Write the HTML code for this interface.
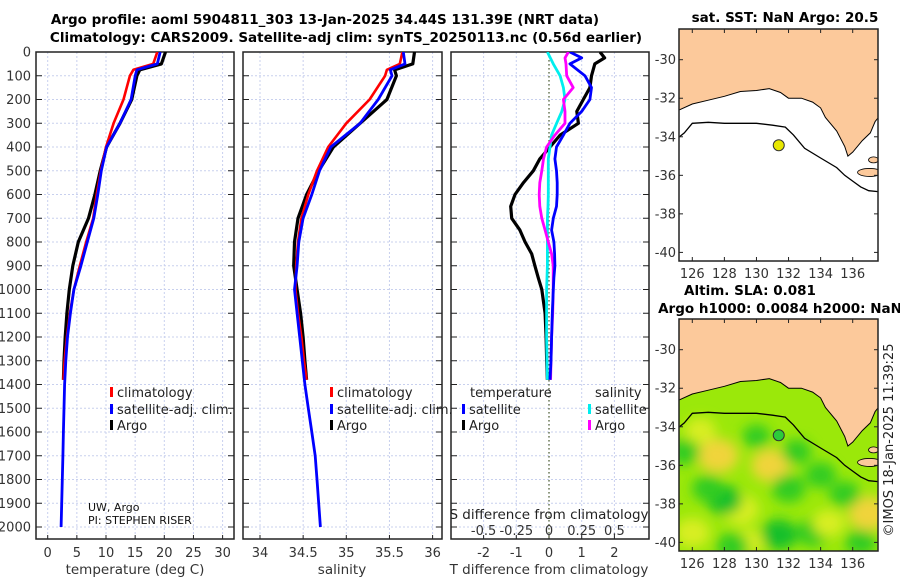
<!DOCTYPE html>
<html><head><meta charset="utf-8">
<style>
html,body{margin:0;padding:0;background:#fff;}
svg{display:block;font-family:"DejaVu Sans","Liberation Sans",sans-serif;}
</style></head>
<body>
<svg id="fig" width="900" height="580" viewBox="0 0 900 580" xmlns="http://www.w3.org/2000/svg">
<defs>
  <clipPath id="clipT"><rect x="36" y="52" width="198" height="487"/></clipPath>
  <clipPath id="clipS"><rect x="243" y="52" width="199" height="487"/></clipPath>
  <clipPath id="clipD"><rect x="451" y="52" width="198" height="487"/></clipPath>
  <clipPath id="clipM1"><rect x="679" y="29" width="199" height="232"/></clipPath>
  <clipPath id="clipM2"><rect x="679" y="319" width="199" height="232"/></clipPath>
  <filter id="blur" x="-50%" y="-50%" width="200%" height="200%"><feGaussianBlur stdDeviation="6"/></filter>
</defs>
<text x="325" y="24" text-anchor="middle" font-size="13.5" font-weight="bold">Argo profile: aoml 5904811_303 13-Jan-2025 34.44S 131.39E (NRT data)</text>
<text x="346" y="42" text-anchor="middle" font-size="13.5" font-weight="bold">Climatology: CARS2009. Satellite-adj clim: synTS_20250113.nc (0.56d earlier)</text>
<g id="panels"></g>
<g id="maps"></g>
<text transform="translate(893,440) rotate(-90)" text-anchor="middle" font-size="13" fill="#222">©IMOS 18-Jan-2025 11:39:25</text>
</svg>
<script>
// ---- data ----
const depthA = [0,50,75,100,200,300,400,500,600,700,800,900,1000,1100,1200,1300,1380];
const depthSat = [0,50,75,100,200,300,400,500,600,700,800,900,1000,1100,1200,1300,1400,1500,1600,1700,1800,1900,2000];
const tempArgo = [20.2,19.5,15.8,15.3,14.4,12.4,10.1,9.0,8.1,7.0,5.25,4.3,3.7,3.3,3.0,2.8,2.7];
const tempClim = [18.8,18.1,14.7,14.1,13.0,11.3,10.0,9.1,8.4,7.8,6.6,5.5,4.5,3.8,3.3,2.9,2.7];
const tempSat = [19.3,18.8,15.3,15.0,14.3,12.4,10.1,9.2,8.6,7.9,6.8,5.7,4.5,3.9,3.4,3.1,2.9,2.8,2.7,2.6,2.5,2.4,2.3];
const salArgo = [35.79,35.77,35.56,35.58,35.47,35.16,34.85,34.68,34.54,34.44,34.40,34.39,34.43,34.47,34.50,34.52,34.54];
const salClim = [35.65,35.62,35.47,35.45,35.27,35.0,34.79,34.66,34.56,34.48,34.44,34.42,34.41,34.44,34.48,34.51,34.54];
const salSat = [35.66,35.68,35.51,35.53,35.37,35.16,34.82,34.69,34.6,34.5,34.45,34.43,34.4,34.43,34.46,34.49,34.52,34.56,34.6,34.64,34.66,34.68,34.70];
const depthDiff = [0,25,50,100,150,200,250,300,350,400,450,500,550,600,650,700,750,800,850,900,950,1000,1100,1200,1300,1380];
const dTempArgo = [1.56,1.7,1.4,1.3,1.25,1.05,0.85,0.9,0.34,0.03,-0.28,-0.48,-0.78,-1.04,-1.17,-1.14,-0.89,-0.73,-0.53,-0.43,-0.33,-0.22,-0.12,-0.09,-0.07,-0.05];
const dTempSat = [0.64,1.0,0.64,1.1,1.3,1.25,1.0,0.64,0.44,0.23,0.18,0.23,0.25,0.25,0.23,0.13,0.08,0.15,0.17,0.18,0.15,0.13,0.1,0.08,0.06,0.03];
const dSalSat = [-0.012,0.01,0.033,0.085,0.11,0.122,0.098,0.058,0.02,0.008,-0.005,-0.005,-0.005,-0.005,-0.008,-0.012,-0.012,-0.012,-0.012,-0.012,-0.015,-0.018,-0.018,-0.018,-0.015,-0.012];
const dSalArgo = [0.148,0.122,0.13,0.135,0.185,0.11,0.122,0.122,0.045,-0.018,-0.042,-0.055,-0.07,-0.075,-0.07,-0.055,-0.03,-0.005,0.02,0.032,0.032,0.032,0.028,0.02,0.015,0.012];
const depthTicks = [0,100,200,300,400,500,600,700,800,900,1000,1100,1200,1300,1400,1500,1600,1700,1800,1900,2000];
const tempTicks = [0,5,10,15,20,25,30];
const salTicks = [34,34.5,35,35.5,36];
const salTickLabels = ["34","34.5","35","35.5","36"];
const dTempTicks = [-2,-1,0,1,2];
const dSalTicks = [-0.5,-0.25,0,0.25,0.5];
const dSalTickLabels = ["-0.5","-0.25","0","0.25","0.5"];
const latTicks = [-30,-32,-34,-36,-38,-40];
const lonTicks = [126,128,130,132,134,136];
const argoLon = [131.39];
const argoLat = [-34.44];
const coastLon = [125.2,126,127,128,129,130,130.8,131.5,132,132.8,133.5,134,134.3,135,135.5,135.7,136,136.6,137.1,137.4,137.6];
const coastLat = [-32.6,-32.3,-32.1,-31.9,-31.65,-31.6,-31.5,-31.7,-32.0,-32.0,-32.2,-32.5,-33.0,-33.7,-34.5,-35.0,-34.8,-34.2,-33.8,-33.2,-33.0];
const isoLon = [125.2,125.5,126,127,128,129,130,131,131.8,132.3,133,134,135,135.5,136,136.5,137,137.6];
const isoLat = [-34,-33.8,-33.3,-33.25,-33.3,-33.3,-33.3,-33.4,-33.5,-33.9,-34.6,-35.1,-35.6,-36,-36.3,-36.6,-36.8,-36.85];
const slaLon = [127.6,130.9,137,125.5,131.4,132,129,134,128,126,133.5,135.5,127,130,126.5,134.5,132.5,129.5,136.5,128.5];
const slaLat = [-35.5,-36,-38.5,-35.3,-39.6,-37.2,-38.3,-36.5,-37.8,-39.5,-39.5,-37.5,-37.2,-34.5,-34.2,-39,-35.3,-40,-40,-40.2];
const slaVal = [0.12,0.11,0.12,-0.05,-0.09,-0.07,0.09,-0.05,-0.08,0.08,-0.06,-0.05,-0.06,-0.03,0.05,0.06,-0.04,0.05,-0.05,-0.06];

const NS = "http://www.w3.org/2000/svg";
function el(tag, attrs, parent, txt){
  const e = document.createElementNS(NS, tag);
  for (const k in attrs) e.setAttribute(k, attrs[k]);
  if (txt !== undefined) e.textContent = txt;
  parent.appendChild(e);
  return e;
}
const yD = d => 52 + d*0.2375;
const panels = document.getElementById('panels');
const gridCol = "#c8d0ee";

function makePanel(name, x0, x1, xScale, xGrid, clip, withYLabels){
  const g = el('g', {}, panels);
  
  
  const top = 52, bot = 539;
  xGrid.forEach(v => {
    const gl = el('line', {x1:xScale(v), x2:xScale(v), y1:top, y2:bot, stroke:gridCol, 'stroke-width':1, 'stroke-dasharray':'2,2'}, g);
    
    
    el('line', {x1:xScale(v), x2:xScale(v), y1:bot, y2:bot-4, stroke:'#222'}, g);
  });
  depthTicks.forEach(d => {
    const gl = el('line', {x1:x0, x2:x1, y1:yD(d), y2:yD(d), stroke:gridCol, 'stroke-width':1, 'stroke-dasharray':'2,2'}, g);
    
    
    el('line', {x1:x0, x2:x0+6, y1:yD(d), y2:yD(d), stroke:'#222'}, g);
    el('line', {x1:x1-6, x2:x1, y1:yD(d), y2:yD(d), stroke:'#222'}, g);
    if (withYLabels){
      const t = el('text', {x:x0-5, y:yD(d)+4.5, 'text-anchor':'end', 'font-size':13, fill:'#333'}, g, String(d));
      
      
    }
  });
  const box = el('rect', {x:x0, y:top, width:x1-x0, height:bot-top, fill:'none', stroke:'#222', 'stroke-width':1.5}, g);
  
  
  return g;
}
function line(g, xs, ds, xScale, color, w, name, clip){
  const pts = xs.map((v,i) => xScale(v).toFixed(1)+','+yD(ds[i]).toFixed(1)).join(' ');
  const p = el('polyline', {points:pts, fill:'none', stroke:color, 'stroke-width':w, 'stroke-linejoin':'round', 'clip-path':'url(#'+clip+')'}, g);
  
  
}
function legend(g, x, y, color, label, name){
  el('rect', {x:x, y:y-10, width:3, height:10, fill:color}, g);
  const t = el('text', {x:x+7, y:y, 'font-size':13, fill:'#222'}, g, label);
  
  
}
function xLabels(g, ticks, labels, xScale, y){
  ticks.forEach((v,i) => {
    const t = el('text', {x:xScale(v), y:y, 'text-anchor':'middle', 'font-size':13, fill:'#333'}, g, labels[i]);
    
    
  });
}

// Temperature panel
const xT = v => 47.7 + v*5.83;
const gT = makePanel('temperature-panel', 36, 234, xT, tempTicks, 'clipT', true);
line(gT, tempArgo, depthA, xT, '#000', 3.2, 'argo-temperature-line', 'clipT');
line(gT, tempClim, depthA, xT, '#f00', 2.6, 'climatology-temperature-line', 'clipT');
line(gT, tempSat, depthSat, xT, '#00f', 2.8, 'satellite-temperature-line', 'clipT');
xLabels(gT, tempTicks, tempTicks.map(String), xT, 557);
let t1 = el('text', {x:135, y:574, 'text-anchor':'middle', 'font-size':13.5, fill:'#333'}, gT, 'temperature (deg C)');
 
legend(gT, 110, 397, '#f00', 'climatology', 'legend-climatology');
legend(gT, 110, 414, '#00f', 'satellite-adj. clim.', 'legend-satellite-adj');
legend(gT, 110, 430, '#000', 'Argo', 'legend-argo');
let a1 = el('text', {x:88, y:511, 'font-size':11, fill:'#111'}, gT, 'UW, Argo');
 
let a2 = el('text', {x:88, y:524, 'font-size':11, fill:'#111'}, gT, 'PI: STEPHEN RISER');
 

// Salinity panel
const xS = v => 260 + (v-34)*86.3;
const gS = makePanel('salinity-panel', 243, 442, xS, salTicks, 'clipS', false);
line(gS, salArgo, depthA, xS, '#000', 3.2, 'argo-salinity-line', 'clipS');
line(gS, salClim, depthA, xS, '#f00', 2.6, 'climatology-salinity-line', 'clipS');
line(gS, salSat, depthSat, xS, '#00f', 2.8, 'satellite-salinity-line', 'clipS');
xLabels(gS, salTicks, salTickLabels, xS, 557);
let t2 = el('text', {x:342, y:574, 'text-anchor':'middle', 'font-size':13.5, fill:'#333'}, gS, 'salinity');
 
legend(gS, 330, 397, '#f00', 'climatology', 'legend-climatology');
legend(gS, 330, 414, '#00f', 'satellite-adj. clim.', 'legend-satellite-adj');
legend(gS, 330, 430, '#000', 'Argo', 'legend-argo');

// Difference panel
const xDT = v => 549 + v*32.7;
const xDS = v => 549 + v*4*32.7;
const gD = makePanel('difference-panel', 451, 649, xDT, dTempTicks, 'clipD', false);
el('line', {x1:549, x2:549, y1:52, y2:539, stroke:'#4a5a2a', 'stroke-width':1.2, 'stroke-dasharray':'1.5,2.5'}, gD);
line(gD, dTempArgo, depthDiff, xDT, '#000', 3.2, 'argo-temperature-diff-line', 'clipD');
line(gD, dSalSat, depthDiff, xDS, '#00eeee', 2.8, 'satellite-salinity-diff-line', 'clipD');
line(gD, dSalArgo, depthDiff, xDS, '#ff00ff', 2.8, 'argo-salinity-diff-line', 'clipD');
line(gD, dTempSat, depthDiff, xDT, '#00f', 2.8, 'satellite-temperature-diff-line', 'clipD');
xLabels(gD, dTempTicks, dTempTicks.map(String), xDT, 557);
xLabels(gD, dSalTicks, dSalTickLabels, xDS, 535);
let t3 = el('text', {x:549, y:574, 'text-anchor':'middle', 'font-size':13.5, fill:'#333'}, gD, 'T difference from climatology');
 
let t4 = el('text', {x:549, y:519, 'text-anchor':'middle', 'font-size':13.5, fill:'#222'}, gD, 'S difference from climatology');
 
let l1 = el('text', {x:470, y:397, 'font-size':13, fill:'#222'}, gD, 'temperature');
 
let l2 = el('text', {x:595, y:397, 'font-size':13, fill:'#222'}, gD, 'salinity');
 
legend(gD, 462, 414, '#00f', 'satellite', 'legend-temperature-satellite');
legend(gD, 462, 430, '#000', 'Argo', 'legend-temperature-argo');
legend(gD, 588, 414, '#00eeee', 'satellite', 'legend-salinity-satellite');
legend(gD, 588, 430, '#ff00ff', 'Argo', 'legend-salinity-argo');

// ---- maps ----
const maps = document.getElementById('maps');
function makeMap(name, top, clip, withSLA, dotColor){
  const lonX = v => 692.3 + (v-126)*16.04;
  const latY = v => top + 30.7 + (-30 - v)*19.27;
  const g = el('g', {}, maps);
  
  
  const inner = el('g', {'clip-path':'url(#'+clip+')'}, g);
  el('rect', {x:679, y:top, width:199, height:232, fill: withSLA ? '#9be80a' : '#fff'}, inner);
  if (withSLA){
    const blobs = el('g', {filter:'url(#blur)'}, inner);
    slaLon.forEach((lo,i) => {
      const v = slaVal[i];
      const c = v > 0 ? (v > 0.1 ? '#f0d43a' : '#d8ee20') : (v < -0.07 ? '#12c02a' : '#30cc20');
      const b = el('ellipse', {cx:lonX(lo), cy:latY(slaLat[i]), rx:12+Math.abs(v)*70, ry:10+Math.abs(v)*60, fill:c}, blobs);
      
      
    });
  }
  let pts = coastLon.map((lo,i) => lonX(lo).toFixed(1)+','+latY(coastLat[i]).toFixed(1));
  pts.push(lonX(138)+','+latY(-33.0), lonX(138)+','+latY(-28), lonX(124)+','+latY(-28), lonX(124)+','+latY(-32.6));
  const land = el('polygon', {points:pts.join(' '), fill:'#fcc99b', stroke:'#000', 'stroke-width':1}, inner);
  
  
  el('ellipse', {cx:lonX(137.05), cy:latY(-35.85), rx:12, ry:4, fill:'#fcc99b', stroke:'#000', 'stroke-width':0.8}, inner);
  el('ellipse', {cx:lonX(137.3), cy:latY(-35.2), rx:5, ry:3, fill:'#fcc99b', stroke:'#000', 'stroke-width':0.8}, inner);
  const iso = el('polyline', {points:isoLon.map((lo,i)=>lonX(lo).toFixed(1)+','+latY(isoLat[i]).toFixed(1)).join(' '), fill:'none', stroke:'#000', 'stroke-width':1.3}, inner);
  
  
  argoLon.forEach((lo,i) => {
    const c = el('circle', {cx:lonX(lo), cy:latY(argoLat[i]), r:5.5, fill:dotColor, stroke:'#333', 'stroke-width':1}, inner);
    
    
  });
  latTicks.forEach(v => {
    el('line', {x1:878, x2:874, y1:latY(v), y2:latY(v), stroke:'#222'}, g);
    el('line', {x1:679, x2:683, y1:latY(v), y2:latY(v), stroke:'#222'}, g);
    const t = el('text', {x:676, y:latY(v)+4.5, 'text-anchor':'end', 'font-size':13, fill:'#333'}, g, String(v));
    
    
  });
  lonTicks.forEach(v => {
    el('line', {x1:lonX(v), x2:lonX(v), y1:top+232, y2:top+228, stroke:'#222'}, g);
    el('line', {x1:lonX(v), x2:lonX(v), y1:top, y2:top+4, stroke:'#222'}, g);
    const t = el('text', {x:lonX(v), y:top+249, 'text-anchor':'middle', 'font-size':13, fill:'#333'}, g, String(v));
    
    
  });
  const box = el('rect', {x:679, y:top, width:199, height:232, fill:'none', stroke:'#222', 'stroke-width':1.5}, g);
  
  
  return g;
}
const m1 = makeMap('sst-map', 29, 'clipM1', false, '#e8e800');
let mt1 = el('text', {x:785, y:22, 'text-anchor':'middle', 'font-size':13.5, 'font-weight':'bold'}, m1, 'sat. SST: NaN Argo: 20.5');
 
const m2 = makeMap('sla-map', 319, 'clipM2', true, '#2ccc3a');
let mt2 = el('text', {x:750, y:295, 'text-anchor':'middle', 'font-size':13.5, 'font-weight':'bold'}, m2, 'Altim. SLA: 0.081');
 
let mt3 = el('text', {x:780, y:313, 'text-anchor':'middle', 'font-size':13.5, 'font-weight':'bold'}, m2, 'Argo h1000: 0.0084 h2000: NaN');
 
</script>
</body></html>
